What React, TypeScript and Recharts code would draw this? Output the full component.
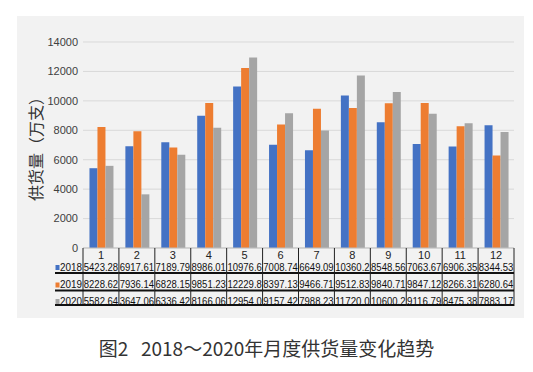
import React from 'react';
import { BarChart, Bar, XAxis, YAxis, CartesianGrid } from 'recharts';

const months = ['1', '2', '3', '4', '5', '6', '7', '8', '9', '10', '11', '12'];
const years = ['2018', '2019', '2020'];
const supply2018 = [5423.28, 6917.61, 7189.79, 8986.01, 10976.6, 7008.74, 6649.09, 10360.2, 8548.56, 7063.67, 6906.35, 8344.53];
const supply2019 = [8228.62, 7936.14, 6828.15, 9851.23, 12229.8, 8397.13, 9466.71, 9512.83, 9840.71, 9847.12, 8266.31, 6280.64];
const supply2020 = [5582.64, 3647.06, 6336.42, 8166.06, 12954.0, 9157.42, 7988.23, 11720.0, 10600.2, 9116.79, 8475.38, 7883.17];
const yTicks = [0, 2000, 4000, 6000, 8000, 10000, 12000, 14000];

const colors = ['#4472C4', '#ED7D31', '#A5A5A5'];
const seriesKeys = ['y2018', 'y2019', 'y2020'];
const seriesValues = [supply2018, supply2019, supply2020];

const data = months.map((m, i) => ({
  month: m,
  y2018: supply2018[i],
  y2019: supply2019[i],
  y2020: supply2020[i],
}));

// table cell text as shown in the source (7 chars max)
const fmt = (v: number) => v.toFixed(2).slice(0, 7);

const tableFont = '"Liberation Sans", Arial, sans-serif';

function TableTick(props: any) {
  const { x, y, index, payload, visibleTicksCount } = props;
  const band = 431 / (visibleTicksCount || 12);
  const left = x - band / 2;
  const right = x + band / 2;
  const rowY = [y + 19, y + 36.5, y + 53];
  const lineY = [y + 25, y + 42.5, y + 57];
  return (
    <g>
      <line x1={left} x2={left} y1={y} y2={y + 58} stroke="#222" strokeWidth={1} />
      {index === 11 && <line x1={right} x2={right} y1={y} y2={y + 58} stroke="#222" strokeWidth={1} />}
      <text x={x} y={y + 11} textAnchor="middle" fontSize={11} fill="#222" fontFamily={tableFont}>
        {payload.value}
      </text>
      {seriesValues.map((vals, r) => (
        <text
          key={r}
          x={x}
          y={rowY[r] + 3.5}
          textAnchor="middle"
          fontSize={10}
          fill="#111"
          fontFamily={tableFont}
          textLength={band - 1.5}
          lengthAdjust="spacingAndGlyphs"
        >
          {fmt(vals[index])}
        </text>
      ))}
      {lineY.map((ly, r) => (
        <line key={r} x1={index === 0 ? left - 28 : left} x2={right} y1={ly} y2={ly} stroke="#111" strokeWidth={1.8} />
      ))}
      {index === 0 &&
        years.map((yr, r) => (
          <g key={yr}>
            <rect x={left - 27.5} y={rowY[r] - 2} width={4} height={5} fill={colors[r]} />
            <text
              x={left - 23}
              y={rowY[r] + 3.5}
              fontSize={10}
              fill="#111"
              fontFamily={tableFont}
              textLength={22}
              lengthAdjust="spacingAndGlyphs"
            >
              {yr}
            </text>
          </g>
        ))}
    </g>
  );
}

export default function App() {
  return (
    <div style={{ position: 'absolute', left: 0, top: 0, width: 533, height: 372, background: '#fff' }}>
      <div style={{ position: 'absolute', left: 17, top: 16, width: 507, height: 302, background: '#f2f2f2' }} />
      <div style={{ position: 'absolute', left: 0, top: 0 }}>
        <BarChart
          width={533}
          height={320}
          data={data}
          margin={{ top: 42, right: 19, left: 23, bottom: 0 }}
          barCategoryGap="18%"
          barGap={0}
        >
          <CartesianGrid vertical={false} stroke="#d9d9d9" />
          <XAxis
            dataKey="month"
            height={72}
            tickSize={0}
            tickMargin={0}
            tickLine={false}
            axisLine={{ stroke: '#bfbfbf' }}
            interval={0}
            tick={<TableTick />}
          />
          <YAxis
            width={60}
            domain={[0, 14000]}
            ticks={yTicks}
            tickSize={3}
            tickMargin={2}
            tickLine={false}
            axisLine={false}
            tick={{ fontSize: 11, fill: '#404040', fontFamily: tableFont }}
          />
          {seriesKeys.map((k, i) => (
            <Bar key={k} dataKey={k} fill={colors[i]} isAnimationActive={false} />
          ))}
        </BarChart>
      </div>
      <div style={{ position: 'absolute', left: 35, top: 145, width: 0, height: 0 }}>
        <div
          style={{
            position: 'absolute',
            left: 0,
            top: 0,
            transform: 'translate(-50%, -50%) rotate(-90deg)',
            whiteSpace: 'nowrap',
            fontFamily: '"Noto Sans CJK SC", sans-serif',
            fontSize: 16,
            color: '#333',
            lineHeight: '18px',
          }}
        >
          供货量（万支）
        </div>
      </div>
      <div
        style={{
          position: 'absolute',
          left: 0,
          top: 336,
          width: 533,
          textAlign: 'center',
          fontFamily: '"Noto Sans CJK SC", sans-serif',
          fontSize: 19,
          color: '#333',
          lineHeight: '24px',
          whiteSpace: 'pre',
        }}
      >
        图2   2018～2020年月度供货量变化趋势
      </div>
    </div>
  );
}
